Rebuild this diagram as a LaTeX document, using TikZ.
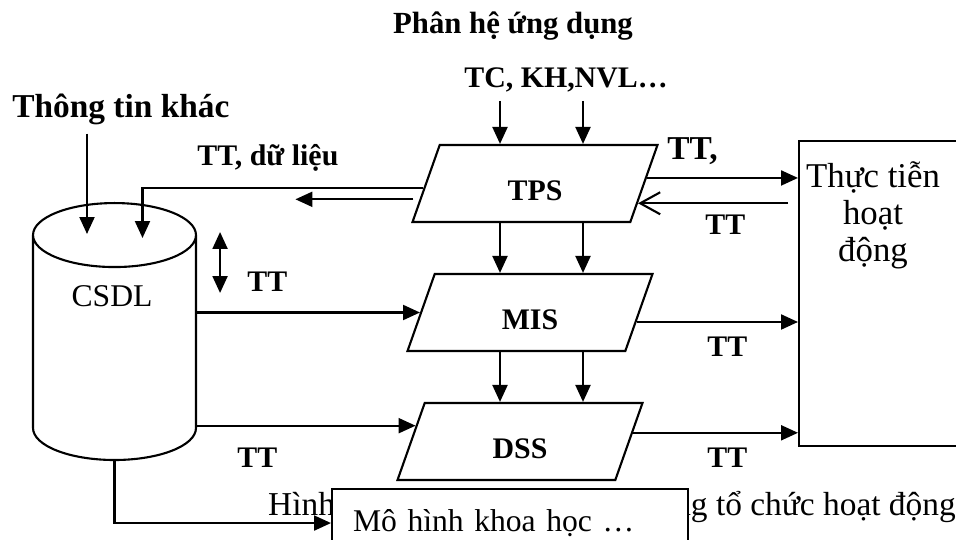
\documentclass[tikz,border=0pt]{standalone}
\usepackage{fontspec}
\setmainfont{Liberation Serif}
\usetikzlibrary{shapes.geometric,arrows.meta,calc,positioning}

\tikzset{
  line/.style={line width=1.2pt},
  arr/.style={line, -{Triangle[length=0.34cm,width=0.3cm]}},
  dblarr/.style={line, {Triangle[length=0.34cm,width=0.3cm]}-{Triangle[length=0.34cm,width=0.3cm]}},
  barb/.style={line, -{Straight Barb[length=0.4cm,width=0.44cm]}},
  txt/.style={inner sep=0pt},
  bold/.style={txt, font=\bfseries\fontsize{17}{20}\selectfont},
  big/.style={font=\bfseries\fontsize{19}{22}\selectfont},
  plain/.style={txt, font=\fontsize{18}{21}\selectfont},
  sys/.style={trapezium, trapezium left angle=51.6, trapezium right angle=128.4,
    trapezium stretches body, draw, line, inner sep=0pt,
    minimum width=4.9cm, minimum height=1.54cm, text height=0.68cm,
    font=\bfseries\fontsize{17}{20}\selectfont},
  store/.style={cylinder, shape border rotate=90, inner sep=0.1cm, aspect=6.4,
    draw, line, minimum width=3.26cm, minimum height=5.14cm},
  frame/.style={draw, line, inner sep=0pt, anchor=north west}
}

\begin{document}
\begin{tikzpicture}[x=0.02cm,y=-0.02cm]
\useasboundingbox (0,0) rectangle (956,540);

% the three processing levels
\node[sys] (tps) at (535,183.5) {TPS};
\node[sys] (mis) at (530,312.5) {MIS};
\node[sys] (dss) at (520,441.5) {DSS};

% database
\node[store, anchor=north] (csdl) at (114.5,202) {};
\node[plain, anchor=base] (csdltxt) at (112,307) {CSDL};
\coordinate (lid) at ($(csdl.north)+(0,32)$);

% operations box (runs off the right edge)
\node[frame, minimum width=3.6cm, minimum height=6.1cm] (practice) at (798,140) {};
\node[plain, anchor=base, align=center, font=\fontsize{19.8}{21.3}\selectfont]
  (practicetxt) at (873,262) {Thực tiễn\\hoạt\\động};

% caption first, model box covers part of it
\node[plain, anchor=base east, font=\fontsize{19}{22}\selectfont] (caption) at (956,515)
  {Hình 1: Vị trí các hệ thống trong tổ chức hoạt động};
\node[frame, fill=white, minimum width=7.12cm, minimum height=1.36cm,
  inner xsep=0.42cm, text width=6.28cm, align=left,
  font=\fontsize{18}{21}\selectfont] (model) at (331,488)
  {Mô hình khoa học …};

% labels
\node[bold, anchor=base, font=\bfseries\fontsize{17.5}{20}\selectfont] (app) at (513,34) {Phân hệ ứng dụng};
\node[bold, anchor=base] (inputs) at (566,88) {TC, KH,NVL…};
\node[bold, big, anchor=base west] (other) at (12,118) {Thông tin khác};
\node[bold, anchor=base west] (ttdata) at (197,166) {TT, dữ liệu};
\node[bold, big, anchor=base west] (ttout) at (667,160) {TT,};
\node[bold, anchor=base west] (tt1) at (705,235) {TT};
\node[bold, anchor=base west] (tt2) at (707,357) {TT};
\node[bold, anchor=base west] (tt3) at (707,467) {TT};
\node[bold, anchor=base west] (tt4) at (247,292) {TT};
\node[bold, anchor=base west] (tt5) at (237,467) {TT};

% two columns of vertical flows
\coordinate (c1) at (500,0);
\coordinate (c2) at (583,0);
\foreach \c in {c1,c2}{
  \draw[arr] (inputs.south -| \c) ++(0,8) -- (tps.north -| \c);
  \draw[arr] (tps.south -| \c) -- (mis.north -| \c);
  \draw[arr] (mis.south -| \c) -- (dss.north -| \c);
}

% TPS <-> operations
\draw[arr] ($(tps.bottom right corner)!0.57!(tps.top right corner)$) coordinate (o1)
  -- (o1 -| practice.west);
\path ($(tps.bottom right corner)!0.25!(tps.top right corner)$) coordinate (i1);
\draw[barb] ($(i1 -| practice.west)+(-10,0)$) -- (i1);

% TPS -> database
\draw[arr] ($(tps.bottom left corner)!0.44!(tps.top left corner)$) -| ($(lid)+(28,4)$);
\draw[arr] ($(tps.bottom left corner)!0.3!(tps.top left corner)+(-6,0)$) -- ++(-118,0);
\draw[arr] (other.south west) ++(75,8) coordinate (p) -- (p |- lid);
\draw[dblarr] ($(csdl.east |- csdl.north)+(23,30)$) -- ++(0,61);

% database -> MIS, DSS, model
\draw[arr] (mis.left side -| csdl.east) -- (mis.left side);
\path ($(dss.bottom left corner)!0.7!(dss.top left corner)$) coordinate (d1);
\draw[arr] (d1 -| csdl.east) -- (d1);
\draw[arr] (csdl.south) |- (model.west);

% MIS, DSS -> operations
\draw[arr] ($(mis.bottom right corner)!0.38!(mis.top right corner)$) coordinate (o2)
  -- (o2 -| practice.west);
\draw[arr] ($(dss.bottom right corner)!0.61!(dss.top right corner)$) coordinate (o3)
  -- (o3 -| practice.west);

\end{tikzpicture}
\end{document}
